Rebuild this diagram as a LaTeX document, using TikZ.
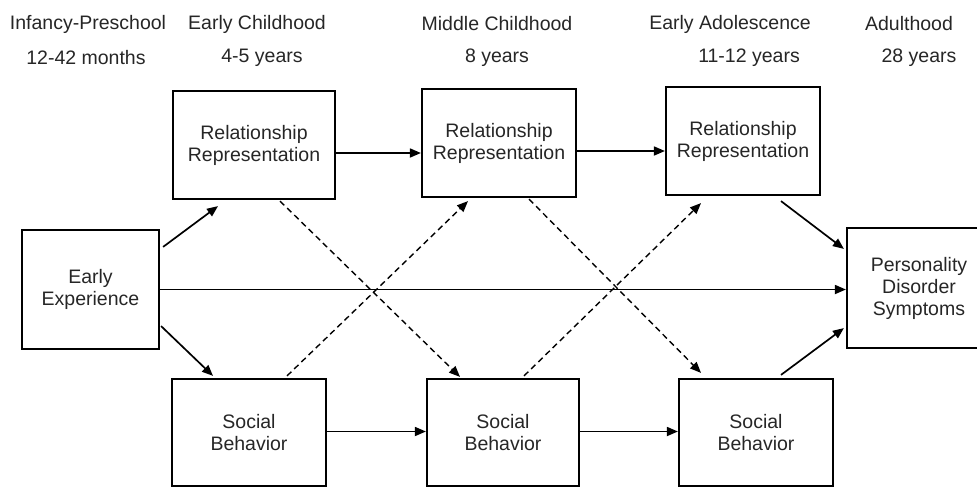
\documentclass[tikz,border=0pt]{standalone}
\usepackage{fontspec}
\setmainfont{Liberation Sans}
\usetikzlibrary{arrows.meta,calc}
\newcommand{\lblfont}{\fontsize{9.75}{11}\selectfont}
\tikzset{
  stagebox/.style={draw, line width=1.1pt, inner sep=0pt, align=center, font=\lblfont, text=black!85},
  hdr/.style={inner sep=0pt, font=\lblfont, text=black!85},
  arr/.style={line width=0.85pt, -{Triangle[length=5.5pt,width=4.5pt]}},
  dasharr/.style={line width=0.7pt, dash pattern=on 3pt off 2pt, -{Triangle[length=5.5pt,width=4.5pt]}}
}
\begin{document}
\begin{tikzpicture}[x=0.5pt, y=-0.5pt]
      \useasboundingbox (0,0) rectangle (977,487);
      % stage headers
      \node[hdr] (hd1) at (88,24) {Infancy-Preschool};
      \node[hdr] (hd2) at (257,24) {Early Childhood};
      \node[hdr] (hd3) at (497,24) {Middle Childhood};
      \node[hdr] (hd4) at (730,24) {Early Adolescence};
      \node[hdr] (hd5) at (909,24) {Adulthood};
      \node[hdr] (ag1) at (86,58) {12-42 months};
      \node[hdr] (ag2) at (262,58) {4-5 years};
      \node[hdr] (ag3) at (497,58) {8 years};
      \node[hdr] (ag4) at (749,58) {11-12 years};
      \node[hdr] (ag5) at (919,58) {28 years};
      % boxes
      \node[stagebox, minimum width=68.5pt, minimum height=59.5pt] (ee) at (90.5,289.5) {Early\\Experience};
      \node[stagebox, minimum width=81pt, minimum height=54pt] (rr1) at (254,145) {Relationship\\Representation};
      \node[stagebox, minimum width=77pt, minimum height=54pt] (rr2) at (499,143) {Relationship\\Representation};
      \node[stagebox, minimum width=77pt, minimum height=54pt] (rr3) at (743,141) {Relationship\\Representation};
      \node[stagebox, minimum width=77pt, minimum height=53.5pt] (sb1) at (249,432.5) {Social\\Behavior};
      \node[stagebox, minimum width=76pt, minimum height=53.5pt] (sb2) at (503,432.5) {Social\\Behavior};
      \node[stagebox, minimum width=77pt, minimum height=53.5pt] (sb3) at (756,432.5) {Social\\Behavior};
      \node[stagebox, minimum width=72pt, minimum height=60pt] (pds) at (919,288) {Personality\\Disorder\\Symptoms};
      % continuity paths
      \draw[arr] ([yshift=-4pt]rr1.east) -- ([yshift=-4pt]rr1.east -| rr2.west);
      \draw[arr] ([yshift=-4pt]rr2.east) -- ([yshift=-4pt]rr2.east -| rr3.west);
      \draw[arr] ([yshift=0.5pt]sb1.east) -- ([yshift=0.5pt]sb1.east -| sb2.west);
      \draw[arr] ([yshift=0.5pt]sb2.east) -- ([yshift=0.5pt]sb2.east -| sb3.west);
      \draw[arr] (ee.east) -- (ee.east -| pds.west);
      \draw[arr] ($(ee.north east)+(3,18)$) -- ($(rr1.south)+(-36,6)$);
      \draw[arr] ($(ee.south east)+(1,-24)$) -- ($(sb1.north)+(-36,-2)$);
      \draw[arr] ($(rr3.south)+(38,5)$) -- ($(pds.north west)+(-2,22)$);
      \draw[arr] ($(sb3.north)+(25,-3)$) -- ($(pds.south west)+(-2,-21)$);
      % cross paths
      \draw[dasharr] ($(rr1.south)+(26,1)$) -- ($(sb2.north)+(-43,-1)$);
      \draw[dasharr] ($(sb1.north)+(38,-2)$) -- ($(rr2.south)+(-31,3)$);
      \draw[dasharr] ($(rr2.south)+(30,1)$) -- ($(sb3.north)+(-55,-5)$);
      \draw[dasharr] ($(sb2.north)+(21,-2)$) -- ($(rr3.south)+(-42,7)$);
    \end{tikzpicture}
\end{document}
